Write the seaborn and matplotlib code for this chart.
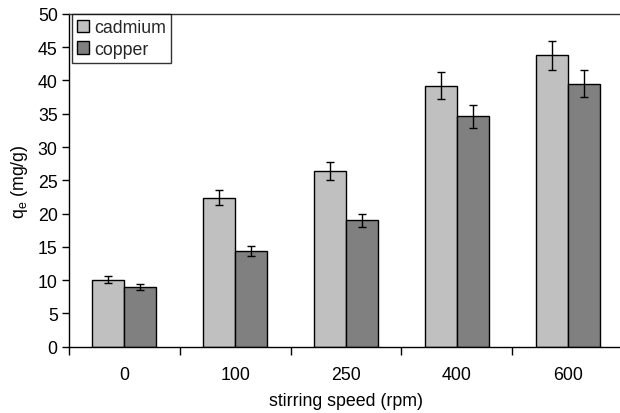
import matplotlib
matplotlib.use("Agg")
import matplotlib.pyplot as plt
import seaborn as sns
import pandas as pd
import numpy as np

speeds = ["0", "100", "250", "400", "600"]
cadmium = [10.1, 22.4, 26.4, 39.2, 43.8]
cadmium_err = [0.5, 1.1, 1.35, 2.0, 2.2]
copper = [9.0, 14.4, 19.0, 34.6, 39.5]
copper_err = [0.45, 0.7, 1.0, 1.7, 2.0]
metals = ["cadmium", "copper"]
colors = ["#c0c0c0", "#808080"]

df = pd.DataFrame({
    "speed": speeds * 2,
    "metal": [metals[0]] * len(speeds) + [metals[1]] * len(speeds),
    "qe": cadmium + copper,
    "err": cadmium_err + copper_err,
})

sns.set_theme(style="white")
plt.rcParams['font.family'] = ['Liberation Sans', 'DejaVu Sans']
FS = 12.8

fig = plt.figure(figsize=(6.2, 4.14), dpi=100)
ax = fig.add_axes([0.111, 0.160, 0.894, 0.804])

sns.barplot(data=df, x="speed", y="qe", hue="metal", order=speeds,
            hue_order=metals, palette=colors, width=0.58, ax=ax,
            edgecolor="black", linewidth=1.0, errorbar=None, saturation=1)

# error bars at bar centres
for cont, m in zip(ax.containers, metals):
    sub = df[df.metal == m].set_index("speed").loc[speeds]
    xs = [p.get_x() + p.get_width() / 2 for p in cont.patches]
    ax.errorbar(xs, sub["qe"].values, yerr=sub["err"].values, fmt="none",
                ecolor="black", elinewidth=1.0, capsize=2.8, capthick=1.0)

ax.set_ylim(0, 50)
ax.set_xlim(-0.5, len(speeds) - 0.5)
ax.set_yticks(np.arange(0, 51, 5))
ax.tick_params(axis="y", which="both", left=True, length=5, width=1, labelsize=FS, colors="black", pad=3)
ax.tick_params(axis="x", length=0, labelsize=FS, pad=14, colors="black")
ax.set_xticks(np.arange(len(speeds)))
ax.set_xticklabels(speeds)
ax.set_xticks(np.arange(len(speeds)) - 0.5, minor=True)
ax.tick_params(axis="x", which="minor", bottom=True, length=6, width=1, color="black")

for s in ["left", "bottom", "top", "right"]:
    ax.spines[s].set_color("black")
    ax.spines[s].set_linewidth(1.0)
ax.spines["top"].set_color("#333333")

ax.set_xlabel("stirring speed (rpm)", fontsize=FS, labelpad=6, color="black")
ax.set_ylabel(r"q$_\mathregular{e}$ (mg/g)", fontsize=FS, labelpad=6, color="black")

leg = ax.legend(loc="upper left", bbox_to_anchor=(0.005, 1.0), frameon=True,
                fancybox=False, edgecolor="black", fontsize=FS,
                handlelength=0.7, handleheight=0.7, handletextpad=0.25,
                borderpad=0.3, labelspacing=0.25, borderaxespad=0.0)
leg.get_frame().set_linewidth(1.0)

fig.savefig("out.png", dpi=100)
